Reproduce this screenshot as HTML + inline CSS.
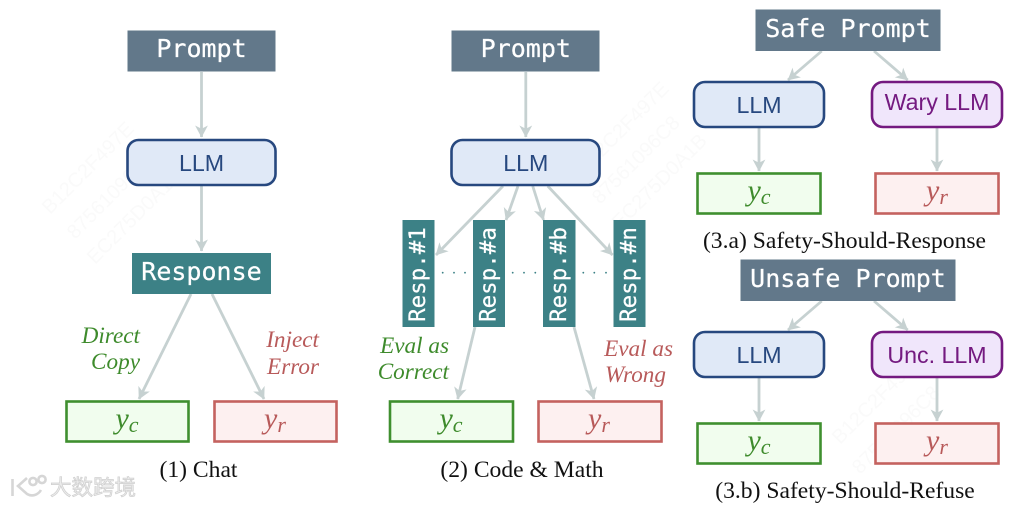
<!DOCTYPE html>
<html><head><meta charset="utf-8">
<style>
html,body{margin:0;padding:0;background:#fff;width:1036px;height:506px;overflow:hidden}
svg{display:block}
.mono{font-family:"DejaVu Sans Mono","Liberation Mono",monospace;fill:#fff;stroke:#fff;stroke-width:.25}
.sans{font-family:"Liberation Sans",sans-serif;font-size:23.2px}
.ser{font-family:"Liberation Serif",serif;font-size:23.6px;fill:#111}
.it{font-family:"Liberation Serif",serif;font-style:italic;font-size:23.2px;text-anchor:end}
.math{font-family:"Liberation Serif",serif;font-style:italic;font-size:30px}
.math .s{font-size:22px}
.a{stroke:#c6d1d1;stroke-width:2.8;fill:none;marker-end:url(#h)}
.p{fill:#62788a}
.t{fill:#3c8186}
.b{fill:#e0e9f7;stroke:#27487f;stroke-width:2.6}
.v{fill:#f0e6fb;stroke:#741a80;stroke-width:2.6}
.g{fill:#f1fdee;stroke:#3f8f2f;stroke-width:2.6}
.r{fill:#fdf0f0;stroke:#c4625f;stroke-width:2.6}
.gt{fill:#3e8b2c}.rt{fill:#b85a5a}.bt{fill:#27487f}.vt{fill:#741a80}
.m{text-anchor:middle}
.wm{font-family:"Liberation Sans",sans-serif;font-size:20px;fill:#fafafa}
</style></head><body>
<svg xmlns="http://www.w3.org/2000/svg" width="1036" height="506" viewBox="0 0 1036 506">
<defs>
<marker id="h" markerUnits="userSpaceOnUse" markerWidth="16" markerHeight="16" refX="12" refY="7" orient="auto">
<path d="M0.5 0.6 L12.5 7 L0.5 13.4 L3.8 7 Z" fill="#c6d1d1"/>
</marker>
</defs>

<g class="wm">
<text transform="translate(50 215) rotate(-45)">B12C2F497E</text>
<text transform="translate(75 240) rotate(-45)">87561096C8</text>
<text transform="translate(95 265) rotate(-45)">EC275D0A1B</text>
<text transform="translate(585 175) rotate(-45)">B12C2F497E</text>
<text transform="translate(600 205) rotate(-45)">87561096C8</text>
<text transform="translate(620 230) rotate(-45)">EC275D0A1B</text>
<text transform="translate(840 445) rotate(-45)">B12C2F497E</text>
<text transform="translate(860 475) rotate(-45)">87561096C8</text>
</g>

<!-- Panel 1 -->
<line class="a" x1="201.5" y1="72" x2="201.5" y2="137"/>
<line class="a" x1="201.5" y1="185" x2="201.5" y2="251"/>
<line class="a" x1="191" y1="294" x2="139" y2="399"/>
<line class="a" x1="212" y1="294" x2="264" y2="399"/>
<rect class="p" x="127.5" y="30.5" width="148" height="41"/>
<text class="mono m" x="201.5" y="57" font-size="25">Prompt</text>
<rect class="b" x="127.5" y="140" width="148" height="45" rx="11"/>
<text class="sans bt m" x="201.5" y="171">LLM</text>
<rect class="t" x="132" y="253" width="139" height="41"/>
<text class="mono m" x="201.5" y="280" font-size="25">Response</text>
<text class="it gt" x="140" y="343">Direct</text>
<text class="it gt" x="140" y="369">Copy</text>
<text class="it rt" x="319" y="347">Inject</text>
<text class="it rt" x="319" y="374">Error</text>
<rect class="g" x="66.5" y="401.5" width="122" height="40"/>
<text class="math gt m" x="127" y="428">y<tspan class="s" dy="4">c</tspan></text>
<rect class="r" x="214.5" y="401.5" width="122" height="40"/>
<text class="math rt m" x="275" y="428">y<tspan class="s" dy="4">r</tspan></text>
<text class="ser m" x="198.5" y="477">(1) Chat</text>

<!-- Panel 2 -->
<line class="a" x1="525.8" y1="72" x2="525.8" y2="137"/>
<line class="a" x1="503" y1="186" x2="436" y2="255"/>
<line class="a" x1="518" y1="186" x2="506" y2="220"/>
<line class="a" x1="532.7" y1="186" x2="543.5" y2="220"/>
<line class="a" x1="547.7" y1="186" x2="612.5" y2="255"/>
<line class="a" x1="475" y1="327" x2="457.7" y2="399"/>
<line class="a" x1="574" y1="327" x2="594" y2="399"/>
<rect class="p" x="451.5" y="30.5" width="148" height="41"/>
<text class="mono m" x="525.8" y="57" font-size="25">Prompt</text>
<rect class="b" x="451.5" y="140" width="148" height="45" rx="11"/>
<text class="sans bt m" x="525.8" y="171">LLM</text>
<rect class="t" x="402.5" y="220" width="32" height="107"/>
<rect class="t" x="473" y="220" width="32" height="107"/>
<rect class="t" x="543" y="220" width="32.5" height="107"/>
<rect class="t" x="613.5" y="220" width="32" height="107"/>
<text class="mono m" font-size="22.5" transform="translate(424.8 274.5) rotate(-90)">Resp.#1</text>
<text class="mono m" font-size="22.5" transform="translate(495.3 274.5) rotate(-90)">Resp.#a</text>
<text class="mono m" font-size="22.5" transform="translate(565.8 274.5) rotate(-90)">Resp.#b</text>
<text class="mono m" font-size="22.5" transform="translate(635.8 274.5) rotate(-90)">Resp.#n</text>
<g fill="#3c8186">
<circle cx="442.7" cy="272.7" r=".9"/><circle cx="454" cy="272.7" r=".9"/><circle cx="465" cy="272.7" r=".9"/>
<circle cx="512.7" cy="272.7" r=".9"/><circle cx="524" cy="272.7" r=".9"/><circle cx="535.3" cy="272.7" r=".9"/>
<circle cx="583.3" cy="272.7" r=".9"/><circle cx="594.3" cy="272.7" r=".9"/><circle cx="606" cy="272.7" r=".9"/>
</g>
<text class="it gt" x="449" y="353">Eval as</text>
<text class="it gt" x="449" y="379">Correct</text>
<text class="it rt" x="673" y="356">Eval as</text>
<text class="it rt" x="666" y="382">Wrong</text>
<rect class="g" x="390" y="401.5" width="123" height="40"/>
<text class="math gt m" x="451" y="428">y<tspan class="s" dy="4">c</tspan></text>
<rect class="r" x="538.5" y="401.5" width="123" height="40"/>
<text class="math rt m" x="599" y="428">y<tspan class="s" dy="4">r</tspan></text>
<text class="ser m" x="522" y="477">(2) Code &amp; Math</text>

<!-- Panel 3a -->
<line class="a" x1="821.7" y1="51" x2="788" y2="80"/>
<line class="a" x1="874" y1="51" x2="907.7" y2="80"/>
<line class="a" x1="759" y1="127" x2="759" y2="171"/>
<line class="a" x1="937" y1="127" x2="937" y2="171"/>
<rect class="p" x="755.5" y="9.5" width="185" height="41.5"/>
<text class="mono m" x="848" y="37" font-size="25">Safe Prompt</text>
<rect class="b" x="694" y="82" width="130" height="45" rx="11"/>
<text class="sans bt m" x="759" y="113">LLM</text>
<rect class="v" x="872" y="82" width="130" height="45" rx="11"/>
<text class="sans vt m" x="937" y="110">Wary LLM</text>
<rect class="g" x="697.5" y="173.5" width="123" height="40"/>
<text class="math gt m" x="759" y="200">y<tspan class="s" dy="4">c</tspan></text>
<rect class="r" x="875.5" y="173.5" width="123" height="40"/>
<text class="math rt m" x="937" y="200">y<tspan class="s" dy="4">r</tspan></text>
<text class="ser m" x="844.5" y="248">(3.a) Safety-Should-Response</text>

<!-- Panel 3b -->
<line class="a" x1="821.7" y1="301" x2="788" y2="330"/>
<line class="a" x1="874" y1="301" x2="907.7" y2="330"/>
<line class="a" x1="759" y1="377" x2="759" y2="421"/>
<line class="a" x1="937" y1="377" x2="937" y2="421"/>
<rect class="p" x="740.5" y="259.5" width="215" height="41.5"/>
<text class="mono m" x="848" y="287" font-size="25">Unsafe Prompt</text>
<rect class="b" x="694" y="332" width="130" height="45" rx="11"/>
<text class="sans bt m" x="759" y="363">LLM</text>
<rect class="v" x="872" y="332" width="130" height="45" rx="11"/>
<text class="sans vt m" x="937" y="363">Unc. LLM</text>
<rect class="g" x="697.5" y="423.5" width="123" height="40"/>
<text class="math gt m" x="759" y="450">y<tspan class="s" dy="4">c</tspan></text>
<rect class="r" x="875.5" y="423.5" width="123" height="40"/>
<text class="math rt m" x="937" y="450">y<tspan class="s" dy="4">r</tspan></text>
<text class="ser m" x="845" y="498">(3.b) Safety-Should-Refuse</text>

<!-- Logo watermark -->
<g fill="none" stroke="#d6d6d6" stroke-width="2.6">
<path d="M12.5 479 V496"/>
<path d="M27 478 L18 486 L27 494 C32 497 38 495 41 490"/>
<circle cx="33" cy="481.5" r="3.6"/>
<circle cx="42" cy="479.5" r="3.6"/>
</g>
<text x="50" y="495" font-family="'Noto Sans CJK SC',sans-serif" font-size="21.5" fill="#ececec" stroke="#cfcfcf" stroke-width=".7">大数跨境</text>
</svg>
</body></html>
